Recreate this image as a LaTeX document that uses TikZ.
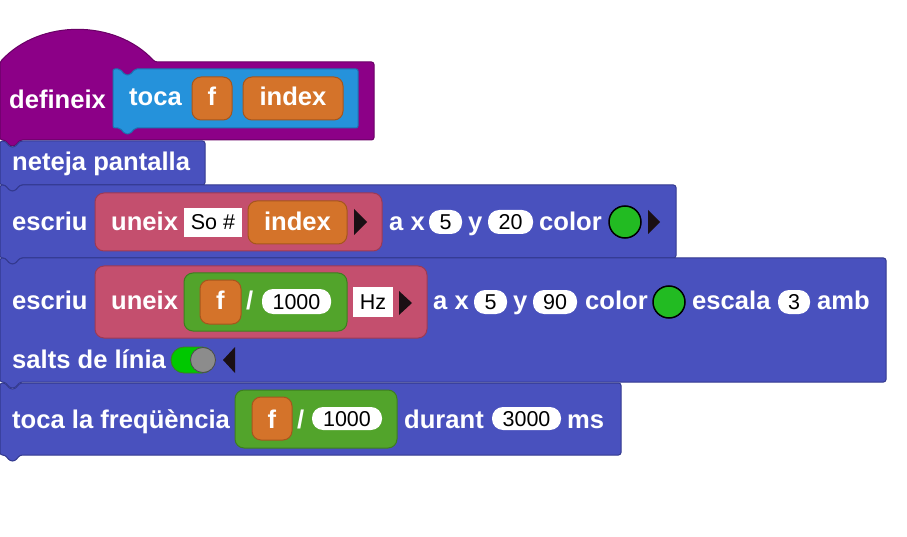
\documentclass[tikz,border=0pt]{standalone}
\usepackage{fontspec}
\setmainfont{Liberation Sans}
\definecolor{defc}{HTML}{8C0087}
\definecolor{defb}{HTML}{6A0066}
\definecolor{procc}{HTML}{2592DB}
\definecolor{procb}{HTML}{1C72B0}
\definecolor{stmc}{HTML}{4951BE}
\definecolor{stmb}{HTML}{33398F}
\definecolor{pinkc}{HTML}{C44F6E}
\definecolor{pinkb}{HTML}{9C3A55}
\definecolor{orc}{HTML}{D4732A}
\definecolor{orb}{HTML}{A5561D}
\definecolor{grc}{HTML}{52A42B}
\definecolor{grb}{HTML}{3D7E1F}
\definecolor{dotc}{HTML}{22BB22}
\definecolor{togc}{HTML}{00C800}
\definecolor{tric}{HTML}{1A0F14}
\newcommand\stmblock[3]{%
  \filldraw[fill=stmc,draw=stmb,line width=1pt,rounded corners=2.5pt]
    (0,#2) -- (5,#2) -- (10,#2+6) -- (15,#2+6) -- (20,#2) -- (#1,#2) -- (#1,#3)
    -- (20,#3) -- (15,#3+6) -- (10,#3+6) -- (5,#3) -- (0,#3) -- cycle;}
\tikzset{
  lbl/.style={text=white,font=\bfseries\fontsize{25.6}{30}\selectfont,inner sep=0pt},
  val/.style={text=black,font=\fontsize{21.5}{25}\selectfont,inner sep=0pt},
  orblk/.style={fill=orc,draw=orb,line width=1pt,rounded corners=9pt},
  pinkblk/.style={fill=pinkc,draw=pinkb,line width=1pt,rounded corners=9pt},
  grblk/.style={fill=grc,draw=grb,line width=1pt,rounded corners=9pt},
  oval/.style={fill=white,rounded corners=11pt},
  field/.style={fill=white},
  dot/.style={fill=dotc,draw=black,line width=1.5pt},
  tri/.style={fill=tric},
}
\begin{document}
\begin{tikzpicture}[x=1pt,y=-1pt]
\useasboundingbox (0,0) rectangle (907,537);
% define hat block
\filldraw[fill=defc,draw=defb,line width=1pt,rounded corners=2.5pt]
  (0,62) .. controls (40,19) and (115,19) .. (155,62) -- (374,62) -- (374,140)
  -- (20,140) -- (15,146) -- (10,146) -- (5,140) -- (0,140) -- cycle;
\node[lbl,anchor=base west] (def) at (9,109) {defineix};
\filldraw[fill=procc,draw=procb,line width=1pt,rounded corners=2pt]
  (113,69) -- (120,69) -- (125,75) -- (130,75) -- (135,69) -- (358,69) -- (358,128)
  -- (135,128) -- (130,134) -- (125,134) -- (120,128) -- (113,128) -- cycle;
\node[lbl,anchor=base west] (toca) at (129,106) {toca};
\draw[orblk] (192,77) rectangle (232,120);
\node[lbl,anchor=base] (pf) at (212,106) {f};
\draw[orblk] (243,77) rectangle (343,120);
\node[lbl,anchor=base] (pidx) at (293,106) {index};
% neteja pantalla
\stmblock{205}{141}{185}
\node[lbl,anchor=base west] (net) at (12,171) {neteja pantalla};
% escriu 1
\stmblock{676}{185}{258}
\node[lbl,anchor=base west] (esc1) at (12,231) {escriu};
\draw[pinkblk] (95,193) rectangle (382,251);
\node[lbl,anchor=base west] (un1) at (111,231) {uneix};
\fill[field] (184,208) rectangle (242,237);
\node[val,anchor=base] (so) at (213,230) {So \#};
\draw[orblk] (248,201) rectangle (347,244);
\node[lbl,anchor=base] (idx1) at (297.5,231) {index};
\fill[tri] (354,209) -- (367,222) -- (354,235) -- cycle;
\node[lbl,anchor=base west] (ax1) at (389,231) {a x};
\fill[oval] (429,210) rectangle (462,234);
\node[val,anchor=base] (v5a) at (445.5,230) {5};
\node[lbl,anchor=base west] (y1) at (468,231) {y};
\fill[oval] (488,210) rectangle (533,234);
\node[val,anchor=base] (v20) at (510.5,230) {20};
\node[lbl,anchor=base west] (col1) at (539,231) {color};
\draw[dot] (625,222) circle (16);
\fill[tri] (648,210) -- (660,222) -- (648,234) -- cycle;
% escriu 2
\stmblock{886}{258}{382}
\node[lbl,anchor=base west] (esc2) at (12,309) {escriu};
\draw[pinkblk] (95,266) rectangle (427,338);
\node[lbl,anchor=base west] (un2) at (111,309) {uneix};
\draw[grblk] (184,273) rectangle (347,331);
\draw[orblk] (200,280) rectangle (241,324);
\node[lbl,anchor=base] (f2) at (220.5,309) {f};
\node[lbl,anchor=base west] (sl2) at (246,309) {/};
\fill[oval] (262,289) rectangle (331,314);
\node[val,anchor=base] (v1000a) at (296.5,309) {1000};
\fill[field] (353,287) rectangle (393,317);
\node[val,anchor=base] (hz) at (373,309.5) {Hz};
\fill[tri] (399,291) -- (412,303) -- (399,315) -- cycle;
\node[lbl,anchor=base west] (ax2) at (433,309) {a x};
\fill[oval] (474,290) rectangle (507,314);
\node[val,anchor=base] (v5b) at (490.5,309.5) {5};
\node[lbl,anchor=base west] (y2) at (513,309) {y};
\fill[oval] (533,290) rectangle (577,314);
\node[val,anchor=base] (v90) at (555,309.5) {90};
\node[lbl,anchor=base west] (col2) at (585,309) {color};
\draw[dot] (669,302) circle (16);
\node[lbl,anchor=base west] (esc) at (692,309) {escala};
\fill[oval] (778,290) rectangle (810,314);
\node[val,anchor=base] (v3) at (794,309.5) {3};
\node[lbl,anchor=base west] (amb) at (817,309) {amb};
\node[lbl,anchor=base west] (salts) at (12,368) {salts de línia};
\filldraw[fill=togc,draw=grb,line width=0.8pt,rounded corners=13pt] (171,347) rectangle (215,373);
\filldraw[fill=gray!90,draw=black!70,line width=0.8pt] (203,360) circle (12.5);
\fill[tri] (235,347) -- (223,360) -- (235,373) -- cycle;
% toca la frequencia
\stmblock{621}{383}{455}
\node[lbl,anchor=base west] (tf) at (12,428) {toca la freqüència};
\draw[grblk] (235,390) rectangle (397,448);
\draw[orblk] (252,397) rectangle (292,440);
\node[lbl,anchor=base] (f3) at (272,428) {f};
\node[lbl,anchor=base west] (sl3) at (297,428) {/};
\fill[oval] (312,407) rectangle (382,430);
\node[val,anchor=base] (v1000b) at (347,426.5) {1000};
\node[lbl,anchor=base west] (dur) at (404,428) {durant};
\fill[oval] (492,407) rectangle (561,430);
\node[val,anchor=base] (v3000) at (526.5,426.5) {3000};
\node[lbl,anchor=base west] (ms) at (567,428) {ms};
\end{tikzpicture}
\end{document}
